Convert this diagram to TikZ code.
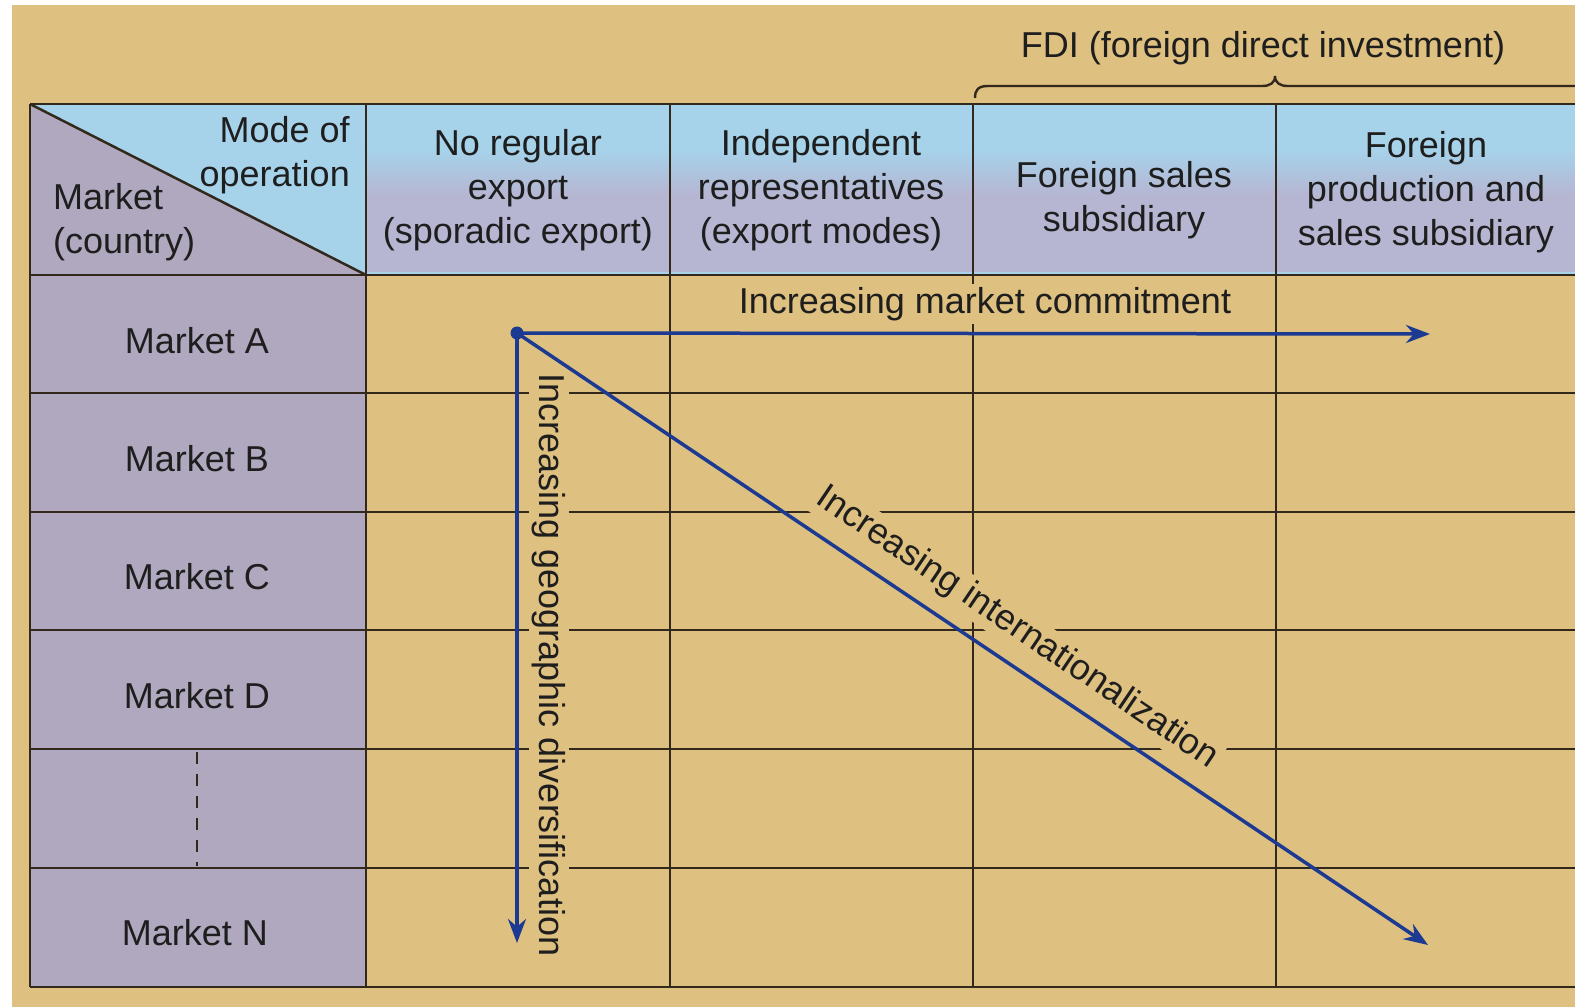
\documentclass[tikz,border=0pt]{standalone}
\usepackage{fontspec}
\setmainfont{Liberation Sans}
\usetikzlibrary{arrows.meta}
\definecolor{tanbg}{RGB}{222,192,128}
\definecolor{hdrblue}{RGB}{166,210,234}
\definecolor{hdrmix}{RGB}{182,182,210}
\definecolor{lav}{RGB}{176,168,190}
\definecolor{gridc}{RGB}{50,40,28}
\definecolor{arrowc}{RGB}{28,58,145}
\definecolor{inkc}{RGB}{30,30,30}
\begin{document}
\begin{tikzpicture}[x=1pt,y=-1pt,
  gridline/.style={draw=gridc,line width=2.5pt},
  txt/.style={font=\fontsize{36}{44}\selectfont, text=inkc, align=center, inner sep=0pt},
  lbl/.style={txt, fill=tanbg, inner sep=3pt},
  flow/.style={draw=arrowc, line width=3.5pt, -{Stealth[length=24pt,width=18pt]}}]
\useasboundingbox (0,0) rectangle (1575,1007);
\fill[white] (0,0) rectangle (1575,1007);
\fill[tanbg] (12,5) rectangle (1575,1007);
% header background
\fill[hdrblue] (366,104) rectangle (1575,275);
\shade[top color=hdrblue,bottom color=hdrmix] (366,150) rectangle (1575,195);
\fill[hdrmix] (366,195) rectangle (1575,272);
% left column
\fill[lav] (30,275) rectangle (366,987);
\fill[hdrblue] (30,104) -- (366,104) -- (366,275) -- cycle;
\fill[lav] (30,104) -- (366,275) -- (30,275) -- cycle;
% grid
\foreach \x in {30,366,670,973,1276} \draw[gridline] (\x,104) -- (\x,987);
\foreach \y in {104,275,393,512,630,749,868,987} \draw[gridline] (30,\y) -- (1575,\y);
\draw[gridline] (30,104) -- (366,275);
\draw[draw=gridc,line width=2.2pt,dash pattern=on 12pt off 10pt] (197,752) -- (197,866);
% brace
\draw[draw=gridc,line width=2.4pt] (975,98) .. controls (975,90) and (978,86) .. (988,86) -- (1262,86)
  .. controls (1270,86) and (1275,83) .. (1275,76) .. controls (1275,83) and (1280,86) .. (1288,86) -- (1575,86);
% texts
\node[txt] (fdi) at (1263,48) {FDI (foreign direct investment)};
\node[txt, anchor=east, align=right] (mode) at (350,155) {Mode of\\operation};
\node[txt, anchor=west, align=left] (market) at (53,222) {Market\\(country)};
\node[txt] (h1) at (518,190) {No regular\\export\\(sporadic export)};
\node[txt] (h2) at (821,190) {Independent\\representatives\\(export modes)};
\node[txt] (h3) at (1124,200) {Foreign sales\\subsidiary};
\node[txt] (h4) at (1426,192) {Foreign\\production and\\sales subsidiary};
\node[txt] (ma) at (197,341) {Market A};
\node[txt] (mb) at (197,459) {Market B};
\node[txt] (mc) at (197,577) {Market C};
\node[txt] (md) at (197,696) {Market D};
\node[txt] (mn) at (195,933) {Market N};
% labels
\node[lbl] (lm) at (985,304) {Increasing market commitment};
\node[lbl, rotate=-90] (lg) at (549,665) {Increasing geographic diversification};
\node[lbl, rotate=-34] (li) at (1017,628) {Increasing internationalization};
% arrows
\coordinate (o) at (517,333);
\coordinate (eh) at (1430,334);
\coordinate (ev) at (517,943);
\coordinate (ed) at (1428,945);
\draw[flow] (o) -- (eh);
\draw[flow] (o) -- (ev);
\draw[flow] (o) -- (ed);
\fill[arrowc] (o) circle (6.5);
\end{tikzpicture}
\end{document}
